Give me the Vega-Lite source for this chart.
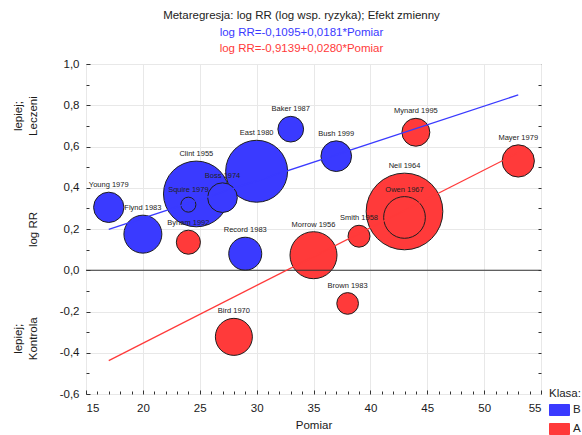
{
  "$schema": "https://vega.github.io/schema/vega-lite/v6.json",
  "width": 455,
  "height": 330,
  "autosize": {"type": "none"},
  "padding": {"left": 86, "top": 64, "right": 41, "bottom": 41},
  "config": {
    "locale": {"number": {"decimal": ",", "thousands": "", "grouping": [3], "currency": ["", ""], "minus": "-"}},
    "font": "Liberation Sans",
    "view": {"stroke": "#333333", "strokeWidth": 1},
    "axis": {
      "labelFont": "Liberation Sans", "titleFont": "Liberation Sans",
      "labelColor": "#1a1a1a", "titleColor": "#1a1a1a",
      "labelFontSize": 11.5, "titleFontSize": 11.5, "titleFontWeight": "normal",
      "tickColor": "#333333", "gridColor": "#e8e8e8"
    }
  },
  "title": {
    "text": "Metaregresja: log RR (log wsp. ryzyka); Efekt zmienny",
    "subtitle": "log RR=-0,1095+0,0181*Pomiar",
    "anchor": "middle", "dx": -12,
    "font": "Liberation Sans", "fontSize": 11.5, "fontWeight": "normal", "color": "#222222",
    "subtitleFont": "Liberation Sans", "subtitleFontSize": 11.5, "subtitleColor": "#3a3aff",
    "subtitlePadding": 5, "offset": 4
  },
  "datasets": {
    "punkty": [
      {"name": "Neil 1964", "x": 43, "y": 0.285, "w": 58.8, "klasa": "A"},
      {"name": "Clint 1955", "x": 24.7, "y": 0.37, "w": 43.2, "klasa": "B"},
      {"name": "East 1980", "x": 30, "y": 0.48, "w": 38.4, "klasa": "B"},
      {"name": "Morrow 1956", "x": 35, "y": 0.073, "w": 22.1, "klasa": "A"},
      {"name": "Owen 1967", "x": 43, "y": 0.256, "w": 17.4, "klasa": "A"},
      {"name": "Flynd 1983", "x": 20, "y": 0.175, "w": 14.4, "klasa": "B"},
      {"name": "Bird 1970", "x": 28, "y": -0.323, "w": 13.7, "klasa": "A"},
      {"name": "Record 1983", "x": 29, "y": 0.08, "w": 10.9, "klasa": "B"},
      {"name": "Mayer 1979", "x": 53, "y": 0.53, "w": 10.4, "klasa": "A"},
      {"name": "Bush 1999", "x": 37, "y": 0.553, "w": 9.4, "klasa": "B"},
      {"name": "Young 1979", "x": 17, "y": 0.305, "w": 9.2, "klasa": "B"},
      {"name": "Boss 1974", "x": 27, "y": 0.352, "w": 8.8, "klasa": "B"},
      {"name": "Mynard 1995", "x": 44, "y": 0.669, "w": 7.8, "klasa": "A"},
      {"name": "Baker 1987", "x": 33, "y": 0.684, "w": 6.6, "klasa": "B"},
      {"name": "Byham 1992", "x": 24, "y": 0.136, "w": 5.8, "klasa": "A"},
      {"name": "Smith 1958", "x": 39, "y": 0.165, "w": 4.8, "klasa": "A"},
      {"name": "Brown 1983", "x": 38, "y": -0.161, "w": 4.7, "klasa": "A"},
      {"name": "Squire 1979", "x": 24, "y": 0.318, "w": 2.25, "klasa": "B"}
    ],
    "linie": [
      {"klasa": "B", "x": 17, "y": 0.198},
      {"klasa": "B", "x": 53, "y": 0.85},
      {"klasa": "A", "x": 17, "y": -0.438},
      {"klasa": "A", "x": 53, "y": 0.57}
    ],
    "zero": [{"y": 0}]
  },
  "layer": [
    {
      "data": {"name": "punkty"},
      "mark": {"type": "point", "shape": "circle", "filled": true, "opacity": 1, "stroke": "#1e1e1e", "strokeWidth": 1},
      "encoding": {
        "x": {
          "field": "x", "type": "quantitative",
          "scale": {"domain": [15, 55], "nice": false, "zero": false},
          "axis": {"values": [15, 20, 25, 30, 35, 40, 45, 50, 55], "format": "d", "title": "Pomiar",
                   "tickSize": -4, "labelPadding": 12, "domain": false, "grid": true, "titlePadding": 6}
        },
        "y": {
          "field": "y", "type": "quantitative",
          "scale": {"domain": [-0.6, 1.0], "nice": false, "zero": false},
          "axis": {"values": [-0.6, -0.4, -0.2, 0, 0.2, 0.4, 0.6, 0.8, 1.0], "format": ".1f", "title": "log RR",
                   "tickSize": -4, "labelPadding": 11, "domain": false, "grid": true,
                   "titleX": -53, "titleBaseline": "middle"}
        },
        "size": {"field": "w", "type": "quantitative", "scale": {"type": "linear", "domain": [0, 100], "range": [0, 10000]}, "legend": null},
        "color": {
          "field": "klasa", "type": "nominal",
          "scale": {"domain": ["B", "A"], "range": ["#3a3aff", "#ff3a3a"]},
          "legend": {"orient": "none", "legendX": 463, "legendY": 324, "title": "Klasa:",
                     "titleFontSize": 11.5, "titleFontWeight": "normal", "titleColor": "#222222", "titleFont": "Liberation Sans",
                     "labelFontSize": 11.5, "labelColor": "#222222", "labelFont": "Liberation Sans",
                     "symbolType": "M-1,-0.55H1V0.55H-1Z", "symbolSize": 400,
                     "symbolStrokeColor": "#333333", "symbolStrokeWidth": 1,
                     "labelOffset": 3, "rowPadding": 1, "titlePadding": 0, "padding": 0}
        }
      }
    },
    {
      "data": {"name": "zero"},
      "mark": {"type": "rule", "color": "#333333", "strokeWidth": 1},
      "encoding": {
        "y": {"field": "y", "type": "quantitative",
              "axis": {"orient": "right", "values": [-0.5, -0.4, -0.3, -0.2, -0.1, 0, 0.1, 0.2, 0.3, 0.4, 0.5, 0.6, 0.7, 0.8, 0.9],
                       "labels": false, "domain": false, "grid": false, "tickSize": -3, "title": null}}
      }
    },
    {
      "data": {"name": "linie"},
      "mark": {"type": "line", "strokeWidth": 1.3},
      "encoding": {
        "x": {"field": "x", "type": "quantitative",
              "axis": {"orient": "top", "labels": false, "ticks": false, "domain": false, "grid": false,
                       "title": "log RR=-0,9139+0,0280*Pomiar", "titleColor": "#ff3a3a",
                       "titleX": 215, "titleY": -16, "titleAlign": "center", "titleBaseline": "middle", "titleAngle": 0}},
        "y": {"field": "y", "type": "quantitative",
              "axis": {"orient": "left", "values": [0.75, -0.33],
                       "labelExpr": "datum.value > 0 ? ['lepiej;', 'Leczeni'] : ['lepiej;', 'Kontrola']",
                       "labelAngle": -90, "labelAlign": "center", "labelBaseline": "middle", "labelLineHeight": 15,
                       "labelPadding": 0, "ticks": false, "domain": false, "grid": false, "offset": 68, "title": null}},
        "color": {"field": "klasa", "type": "nominal", "legend": null}
      }
    },
    {
      "data": {"name": "punkty"},
      "mark": {"type": "text", "fontSize": 7.5, "baseline": "bottom", "align": "center", "color": "#222222", "font": "Liberation Sans",
               "dy": {"expr": "-3 - 5 * sqrt(datum.w)"}},
      "encoding": {
        "x": {"field": "x", "type": "quantitative",
              "axis": {"orient": "bottom", "values": [16, 17, 18, 19, 21, 22, 23, 24, 26, 27, 28, 29, 31, 32, 33, 34, 36, 37, 38, 39, 41, 42, 43, 44, 46, 47, 48, 49, 51, 52, 53, 54],
                       "labels": false, "domain": false, "grid": false, "tickSize": -3, "title": null}},
        "y": {"field": "y", "type": "quantitative",
              "axis": {"orient": "left", "values": [-0.5, -0.3, -0.1, 0.1, 0.3, 0.5, 0.7, 0.9],
                       "labels": false, "domain": false, "grid": false, "tickSize": -3, "title": null}},
        "text": {"field": "name"}
      }
    }
  ],
  "resolve": {"axis": {"x": "independent", "y": "independent"}}
}
